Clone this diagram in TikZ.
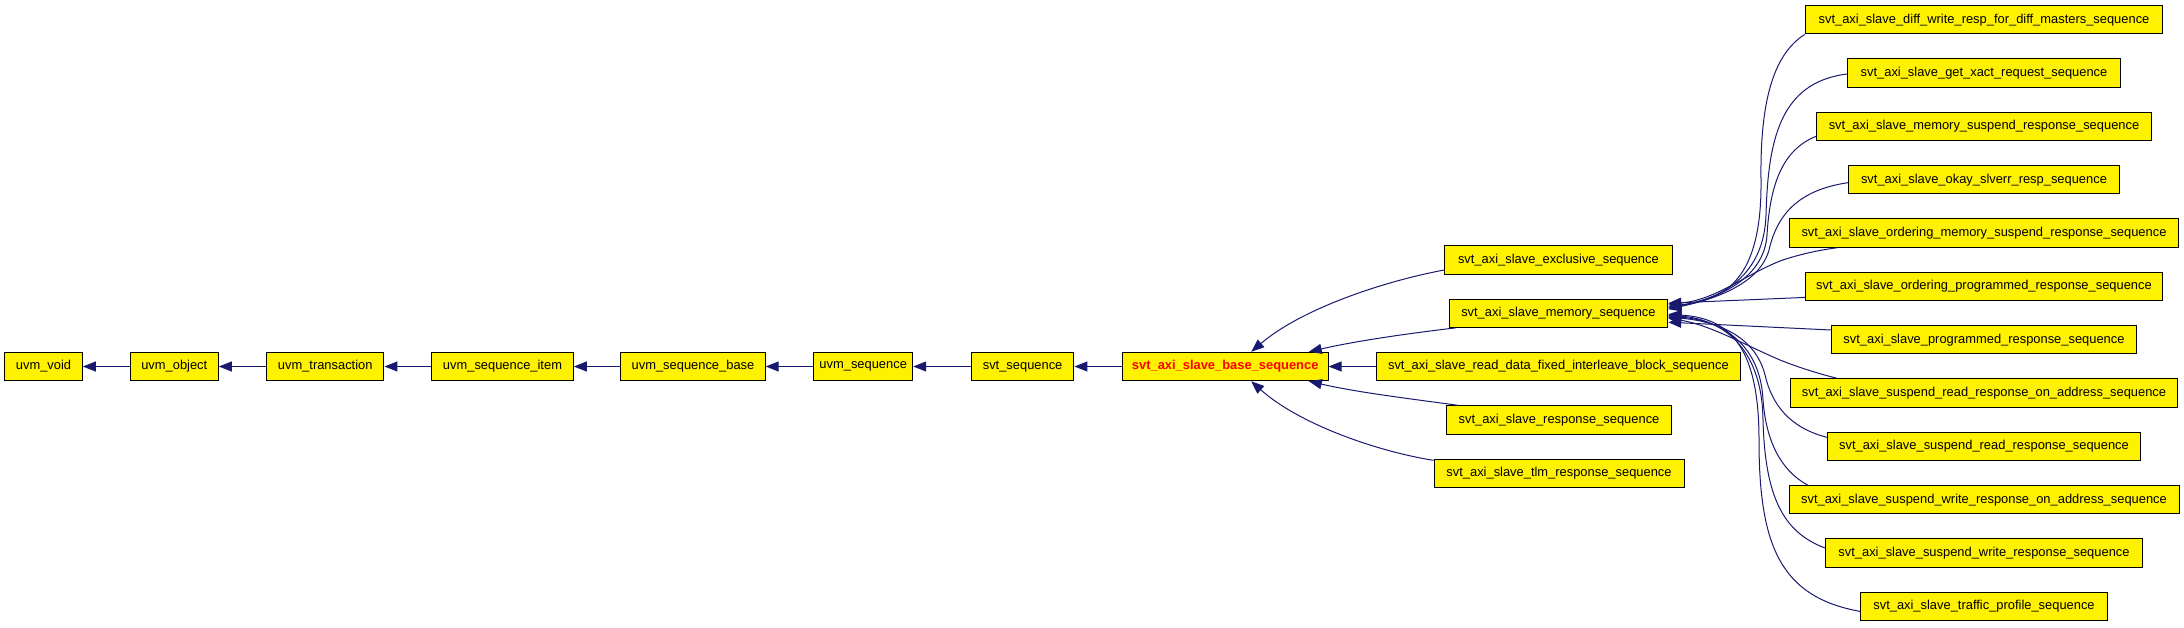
\documentclass[tikz,border=0pt]{standalone}
\usepackage{fontspec}
\setmainfont{Liberation Sans}
\usetikzlibrary{arrows.meta,calc}
\definecolor{edgecol}{HTML}{191970}
\begin{document}
\begin{tikzpicture}[x=1pt,y=-1pt,
  box/.style={draw=black, line width=1pt, fill=yellow, minimum height=28.4pt, inner sep=0pt, font=\fontsize{12.9}{14}\selectfont},
  edge/.style={draw=edgecol, line width=1pt, arrows={Triangle[length=13pt,width=10pt]-}}]
\useasboundingbox (0,0) rectangle (2184,627);
% main row
\node[box, minimum width=77.6pt]  (void)  at (43.5,366.5)  {uvm\_void};
\node[box, minimum width=88pt]    (obj)   at (174.3,366.5) {uvm\_object};
\node[box, minimum width=117.5pt] (trans) at (325.2,366.5) {uvm\_transaction};
\node[box, minimum width=141.6pt] (item)  at (502.5,366.5) {uvm\_sequence\_item};
\node[box, minimum width=144.4pt] (sbase) at (693,366.5)   {uvm\_sequence\_base};
\node[box, minimum width=99pt]    (useq)  at (863.2,366.5) {uvm\_sequence};
\node[box, minimum width=102.6pt] (svtseq) at (1022.6,366.5) {svt\_sequence};
\node[box, minimum width=205.7pt, text=red, font=\fontsize{12.9}{14}\selectfont\bfseries] (base) at (1225.2,366.5) {svt\_axi\_slave\_base\_sequence};
% middle column
\node[box, minimum width=227.3pt] (excl) at (1558.4,260)   {svt\_axi\_slave\_exclusive\_sequence};
\node[box, minimum width=218.7pt] (mem)  at (1558.4,313.2) {svt\_axi\_slave\_memory\_sequence};
\node[box, minimum width=363.8pt] (rdata) at (1558.4,366.5) {svt\_axi\_slave\_read\_data\_fixed\_interleave\_block\_sequence};
\node[box, minimum width=225.2pt] (resp) at (1559,420)     {svt\_axi\_slave\_response\_sequence};
\node[box, minimum width=250pt]   (tlm)  at (1559,473.3)   {svt\_axi\_slave\_tlm\_response\_sequence};
% right column
\node[box, minimum width=357.4pt] (diff)    at (1984,19.7)  {svt\_axi\_slave\_diff\_write\_resp\_for\_diff\_masters\_sequence};
\node[box, minimum width=272.4pt] (getx)    at (1984,73.0)  {svt\_axi\_slave\_get\_xact\_request\_sequence};
\node[box, minimum width=335.2pt] (memsusp) at (1984,126.4) {svt\_axi\_slave\_memory\_suspend\_response\_sequence};
\node[box, minimum width=271.2pt] (okay)    at (1984,179.7) {svt\_axi\_slave\_okay\_slverr\_resp\_sequence};
\node[box, minimum width=388.3pt] (ordmem)  at (1984,233.0) {svt\_axi\_slave\_ordering\_memory\_suspend\_response\_sequence};
\node[box, minimum width=356.2pt] (ordprog) at (1984,286.4) {svt\_axi\_slave\_ordering\_programmed\_response\_sequence};
\node[box, minimum width=304.5pt] (prog)    at (1984,339.7) {svt\_axi\_slave\_programmed\_response\_sequence};
\node[box, minimum width=387pt]   (sraddr)  at (1984,393.0) {svt\_axi\_slave\_suspend\_read\_response\_on\_address\_sequence};
\node[box, minimum width=312.3pt] (sread)   at (1984,446.4) {svt\_axi\_slave\_suspend\_read\_response\_sequence};
\node[box, minimum width=390pt]   (swaddr)  at (1984,499.7) {svt\_axi\_slave\_suspend\_write\_response\_on\_address\_sequence};
\node[box, minimum width=316.8pt] (swrite)  at (1984,553.0) {svt\_axi\_slave\_suspend\_write\_response\_sequence};
\node[box, minimum width=246.8pt] (traffic) at (1984,606.4) {svt\_axi\_slave\_traffic\_profile\_sequence};
% main row edges
\draw[edge] (void) -- (obj);
\draw[edge] (obj) -- (trans);
\draw[edge] (trans) -- (item);
\draw[edge] (item) -- (sbase);
\draw[edge] (sbase) -- (useq);
\draw[edge] (useq) -- (svtseq);
\draw[edge] (svtseq) -- (base);
\draw[edge] (base) -- (rdata);
% middle column edges
\draw[edge] ([xshift=26pt]base.north) .. controls (1300,310) and (1380,282) .. ([yshift=-10pt]excl.west);
\draw[edge] ([xshift=83.6pt]base.north) .. controls (1360,340) and (1420,332) .. ([xshift=7pt]mem.south west);
\draw[edge] ([xshift=83.6pt]base.south) .. controls (1360,393) and (1420,400) .. ([xshift=12pt]resp.north west);
\draw[edge] ([xshift=26pt]base.south) .. controls (1300,425) and (1380,452) .. ([yshift=13pt]tlm.west);
% fan edges into memory sequence
\draw[edge] ([yshift=7pt]mem.east) .. controls (1725,300) and (1762,280) .. (1761,180) .. controls (1760,105) and (1772,55) .. ([xshift=0pt]diff.south west);
\draw[edge] ([yshift=6pt]mem.east) .. controls (1722,299) and (1764,275) .. (1766,215) .. controls (1768,140) and (1780,82) .. ([yshift=-1pt]getx.west);
\draw[edge] ([yshift=5pt]mem.east) .. controls (1720,298) and (1764,278) .. (1767,235) .. controls (1770,185) and (1782,150) .. ([yshift=-10pt]memsusp.west);
\draw[edge] ([yshift=4pt]mem.east) .. controls (1720,298) and (1760,282) .. (1769,250) .. controls (1777,215) and (1798,190) .. ([yshift=-3pt]okay.west);
\draw[edge] ([yshift=9pt]mem.east) .. controls (1715,300) and (1745,275) .. (1780,261) .. controls (1800,254) and (1820,250) .. ([xshift=48pt]ordmem.south west);
\draw[edge] ([yshift=10pt]mem.east) -- ([yshift=-11pt]ordprog.west);
\draw[edge] ([yshift=-9pt]mem.east) -- ([yshift=9.7pt]prog.west);
\draw[edge] ([yshift=-5pt]mem.east) .. controls (1710,325) and (1745,345) .. (1780,360) .. controls (1800,368) and (1820,374) .. ([xshift=47pt]sraddr.north west);
\draw[edge] ([yshift=-4pt]mem.east) .. controls (1715,321) and (1755,335) .. (1765,375) .. controls (1772,405) and (1790,428) .. ([yshift=9pt]sread.west);
\draw[edge] ([yshift=-3pt]mem.east) .. controls (1717,320) and (1760,340) .. (1763,400) .. controls (1766,440) and (1780,470) .. ([xshift=19pt]swaddr.north west);
\draw[edge] ([yshift=-2pt]mem.east) .. controls (1720,319) and (1762,345) .. (1763,420) .. controls (1765,495) and (1782,532) .. ([yshift=5pt]swrite.west);
\draw[edge] ([yshift=-1pt]mem.east) .. controls (1725,318) and (1759,340) .. (1759,440) .. controls (1759,545) and (1780,597) .. ([yshift=-5pt]traffic.west);
\end{tikzpicture}
\end{document}
